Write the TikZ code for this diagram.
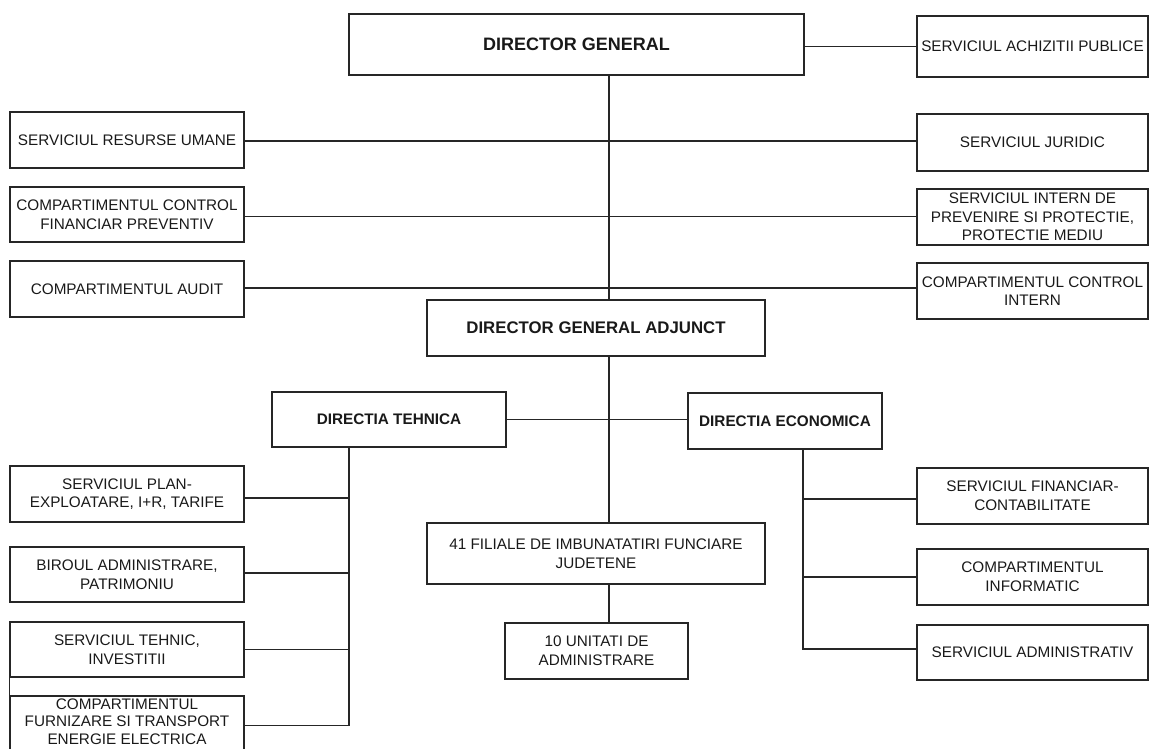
\documentclass[tikz,border=0pt]{standalone}
\usepackage{fontspec}
\setmainfont{Liberation Sans}
\begin{document}
\begin{tikzpicture}[x=1pt,y=-1pt,
  box/.style={draw=black!85, line width=1.5pt, inner sep=0pt, align=center, text=black!90,
              font=\fontsize{15.3}{18.7}\selectfont},
  bbox/.style={box, font=\fontsize{15.3}{18.7}\selectfont\bfseries},
  txt/.style={inner sep=0pt, align=center, text=black!90, font=\fontsize{15.3}{17.4}\selectfont},
  wh/.style 2 args={minimum width=#1, minimum height=#2},
  conn/.style={draw=black!85, line width=1.5pt}]
\useasboundingbox (0,0) rectangle (1150,748);
\clip (0,0) rectangle (1150,748);
% top level
\node[bbox, wh={455}{61}, font=\fontsize{18}{21}\selectfont\bfseries] (dg) at (576.5,44.5) {DIRECTOR GENERAL};
\node[box, wh={231}{61}] (achiz) at (1032.5,46.5) {SERVICIUL ACHIZITII PUBLICE};
% left staff
\node[box, wh={234}{56}] (ru) at (127,140) {SERVICIUL RESURSE UMANE};
\node[box, wh={234}{55}] (cfp) at (127,214.5) {COMPARTIMENTUL CONTROL\\FINANCIAR PREVENTIV};
\node[box, wh={234}{56}] (audit) at (127,289) {COMPARTIMENTUL AUDIT};
% right staff
\node[box, wh={231}{57}] (jur) at (1032.5,142.5) {SERVICIUL JURIDIC};
\node[box, wh={231}{56}] (sip) at (1032.5,217) {SERVICIUL INTERN DE\\PREVENIRE SI PROTECTIE,\\PROTECTIE MEDIU};
\node[box, wh={231}{56}] (ci) at (1032.5,291) {COMPARTIMENTUL CONTROL\\INTERN};
% deputy
\node[bbox, wh={338}{56}, font=\fontsize{16.8}{20}\selectfont\bfseries] (dga) at (596,328) {DIRECTOR GENERAL ADJUNCT};
% directions
\node[bbox, wh={234}{55}] (dt) at (389,419.5) {DIRECTIA TEHNICA};
\node[bbox, wh={194}{56}] (de) at (785,421) {DIRECTIA ECONOMICA};
% technical subunits
\node[box, wh={234}{56}] (plan) at (127,494) {SERVICIUL PLAN-\\EXPLOATARE, I+R, TARIFE};
\node[box, wh={234}{55}] (birou) at (127,574.5) {BIROUL ADMINISTRARE,\\PATRIMONIU};
\node[box, wh={234}{55}] (tehnic) at (127,649.5) {SERVICIUL TEHNIC,\\INVESTITII};
\node[box, wh={234}{64}, anchor=north] (furn) at (127,695) {};
\node[txt] (furnt) at (127,721.5) {COMPARTIMENTUL\\FURNIZARE SI TRANSPORT\\ENERGIE ELECTRICA};
% centre
\node[box, wh={338}{61}] (fil) at (596,553.5) {41 FILIALE DE IMBUNATATIRI FUNCIARE\\JUDETENE};
\node[box, wh={183}{56}] (uni) at (596.5,651) {10 UNITATI DE\\ADMINISTRARE};
% economic subunits
\node[box, wh={231}{56}] (fin) at (1032.5,496) {SERVICIUL FINANCIAR-\\CONTABILITATE};
\node[box, wh={231}{56}] (inf) at (1032.5,577) {COMPARTIMENTUL\\INFORMATIC};
\node[box, wh={231}{55}] (adm) at (1032.5,652.5) {SERVICIUL ADMINISTRATIV};
% spines
\coordinate (v) at (609,0);
\coordinate (vt) at (349,0);
\coordinate (vd) at (803,0);
% connectors
\draw[conn] ([yshift=-2pt]dg.east) -- ([yshift=-2pt]dg.east -| achiz.west);
\draw[conn] (v |- dg.south) -- (v |- dga.north);
\draw[conn] ([yshift=-1pt]ru.east) -- ([yshift=-1pt]ru.east -| jur.west);
\draw[conn] ([yshift=-2pt]cfp.east) -- ([yshift=-2pt]cfp.east -| sip.west);
\draw[conn] ([yshift=1pt]audit.east) -- ([yshift=1pt]audit.east -| ci.west);
\draw[conn] (v |- dga.south) -- (v |- fil.north);
\draw[conn] (dt.east) -- (dt.east -| de.west);
\draw[conn] (v |- fil.south) -- (v |- uni.north);
\draw[conn] (vt |- dt.south) |- ([yshift=-4pt]furnt.east -| furn.east);
\draw[conn] ([yshift=-4pt]plan.east) -- ([yshift=-4pt]plan.east -| vt);
\draw[conn] ([yshift=1.5pt]birou.east) -- ([yshift=1.5pt]birou.east -| vt);
\draw[conn] (tehnic.east) -- (tehnic.east -| vt);
\draw[conn] (tehnic.south west) -- (furn.north west);
\draw[conn] (vd |- de.south) |- ([yshift=3.5pt]adm.west);
\draw[conn] ([yshift=-3pt]fin.west -| vd) -- ([yshift=-3pt]fin.west);
\draw[conn] (inf.west -| vd) -- (inf.west);
\end{tikzpicture}
\end{document}
